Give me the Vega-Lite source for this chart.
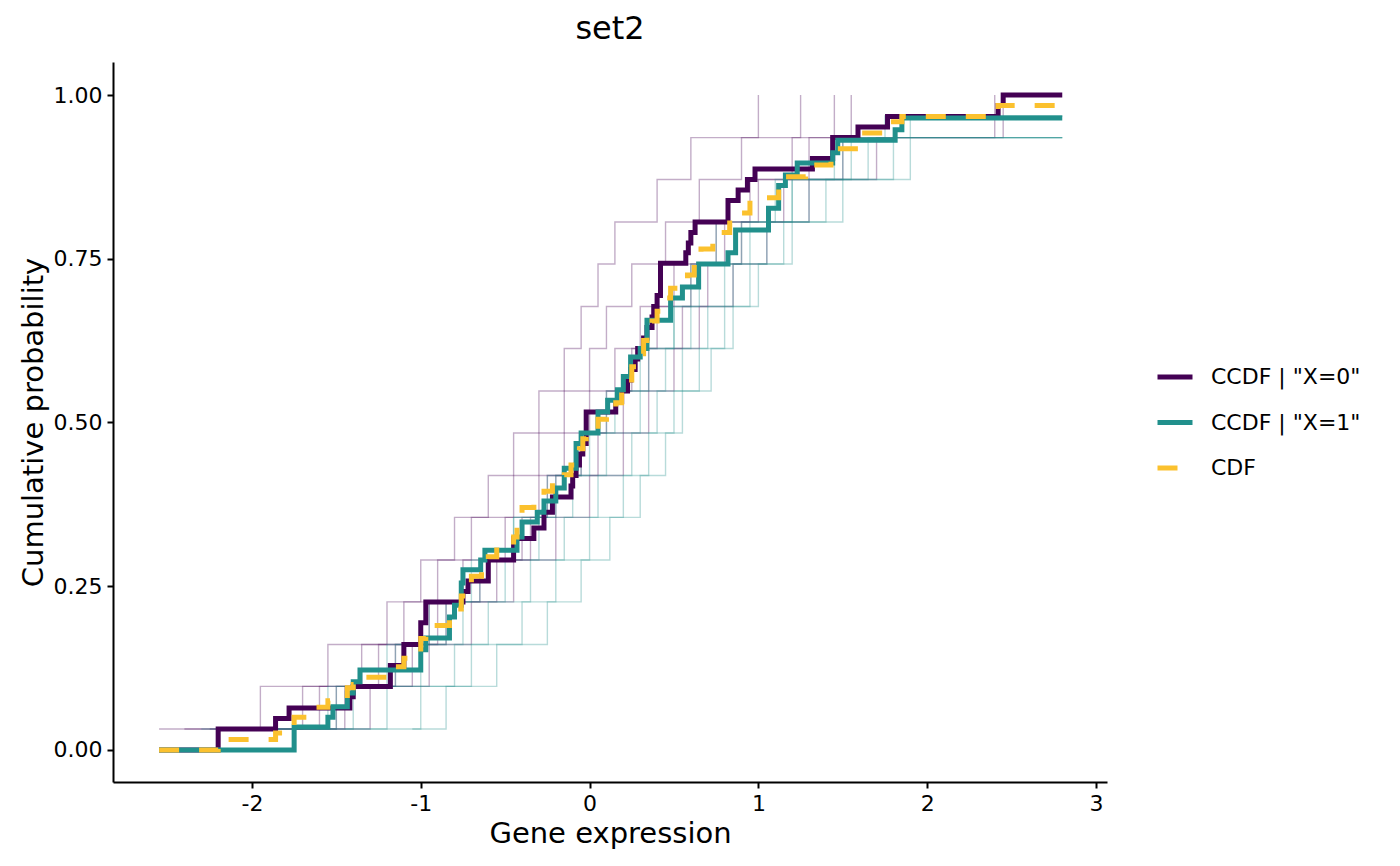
{
  "$schema": "https://vega.github.io/schema/vega-lite/v6.json",
  "width": 994,
  "height": 720,
  "autosize": "none",
  "padding": {"left": 113, "top": 62, "right": 293, "bottom": 84},
  "background": "white",
  "title": {
    "text": "set2",
    "fontSize": 32,
    "font": "DejaVu Sans",
    "fontWeight": "normal",
    "color": "black",
    "anchor": "middle",
    "offset": 16
  },
  "datasets": {
    "faint": [
      {"grp": "X=0", "run": "p1", "x": -2.55, "y": 0.032},
      {"grp": "X=0", "run": "p1", "x": -1.95, "y": 0.097},
      {"grp": "X=0", "run": "p1", "x": -1.55, "y": 0.161},
      {"grp": "X=0", "run": "p1", "x": -1.2, "y": 0.226},
      {"grp": "X=0", "run": "p1", "x": -1.0, "y": 0.29},
      {"grp": "X=0", "run": "p1", "x": -0.8, "y": 0.355},
      {"grp": "X=0", "run": "p1", "x": -0.6, "y": 0.419},
      {"grp": "X=0", "run": "p1", "x": -0.45, "y": 0.484},
      {"grp": "X=0", "run": "p1", "x": -0.3, "y": 0.548},
      {"grp": "X=0", "run": "p1", "x": -0.15, "y": 0.613},
      {"grp": "X=0", "run": "p1", "x": -0.05, "y": 0.677},
      {"grp": "X=0", "run": "p1", "x": 0.05, "y": 0.742},
      {"grp": "X=0", "run": "p1", "x": 0.15, "y": 0.806},
      {"grp": "X=0", "run": "p1", "x": 0.4, "y": 0.871},
      {"grp": "X=0", "run": "p1", "x": 0.6, "y": 0.935},
      {"grp": "X=0", "run": "p1", "x": 1.0, "y": 1.0},
      {"grp": "X=0", "run": "p2", "x": -2.4, "y": 0.032},
      {"grp": "X=0", "run": "p2", "x": -1.7, "y": 0.097},
      {"grp": "X=0", "run": "p2", "x": -1.35, "y": 0.161},
      {"grp": "X=0", "run": "p2", "x": -1.1, "y": 0.226},
      {"grp": "X=0", "run": "p2", "x": -0.9, "y": 0.29},
      {"grp": "X=0", "run": "p2", "x": -0.7, "y": 0.355},
      {"grp": "X=0", "run": "p2", "x": -0.45, "y": 0.419},
      {"grp": "X=0", "run": "p2", "x": -0.3, "y": 0.484},
      {"grp": "X=0", "run": "p2", "x": -0.15, "y": 0.548},
      {"grp": "X=0", "run": "p2", "x": 0.0, "y": 0.613},
      {"grp": "X=0", "run": "p2", "x": 0.1, "y": 0.677},
      {"grp": "X=0", "run": "p2", "x": 0.25, "y": 0.742},
      {"grp": "X=0", "run": "p2", "x": 0.45, "y": 0.806},
      {"grp": "X=0", "run": "p2", "x": 0.65, "y": 0.871},
      {"grp": "X=0", "run": "p2", "x": 0.9, "y": 0.935},
      {"grp": "X=0", "run": "p2", "x": 1.25, "y": 1.0},
      {"grp": "X=0", "run": "p3", "x": -2.1, "y": 0.032},
      {"grp": "X=0", "run": "p3", "x": -1.5, "y": 0.097},
      {"grp": "X=0", "run": "p3", "x": -1.25, "y": 0.161},
      {"grp": "X=0", "run": "p3", "x": -0.95, "y": 0.226},
      {"grp": "X=0", "run": "p3", "x": -0.75, "y": 0.29},
      {"grp": "X=0", "run": "p3", "x": -0.5, "y": 0.355},
      {"grp": "X=0", "run": "p3", "x": -0.3, "y": 0.419},
      {"grp": "X=0", "run": "p3", "x": -0.15, "y": 0.484},
      {"grp": "X=0", "run": "p3", "x": 0.0, "y": 0.548},
      {"grp": "X=0", "run": "p3", "x": 0.15, "y": 0.613},
      {"grp": "X=0", "run": "p3", "x": 0.3, "y": 0.677},
      {"grp": "X=0", "run": "p3", "x": 0.5, "y": 0.742},
      {"grp": "X=0", "run": "p3", "x": 0.8, "y": 0.806},
      {"grp": "X=0", "run": "p3", "x": 1.0, "y": 0.871},
      {"grp": "X=0", "run": "p3", "x": 1.3, "y": 0.935},
      {"grp": "X=0", "run": "p3", "x": 1.45, "y": 1.0},
      {"grp": "X=0", "run": "p4", "x": -1.9, "y": 0.032},
      {"grp": "X=0", "run": "p4", "x": -1.45, "y": 0.097},
      {"grp": "X=0", "run": "p4", "x": -1.05, "y": 0.161},
      {"grp": "X=0", "run": "p4", "x": -0.85, "y": 0.226},
      {"grp": "X=0", "run": "p4", "x": -0.55, "y": 0.29},
      {"grp": "X=0", "run": "p4", "x": -0.35, "y": 0.355},
      {"grp": "X=0", "run": "p4", "x": -0.2, "y": 0.419},
      {"grp": "X=0", "run": "p4", "x": 0.05, "y": 0.484},
      {"grp": "X=0", "run": "p4", "x": 0.2, "y": 0.548},
      {"grp": "X=0", "run": "p4", "x": 0.35, "y": 0.613},
      {"grp": "X=0", "run": "p4", "x": 0.55, "y": 0.677},
      {"grp": "X=0", "run": "p4", "x": 0.7, "y": 0.742},
      {"grp": "X=0", "run": "p4", "x": 0.9, "y": 0.806},
      {"grp": "X=0", "run": "p4", "x": 1.15, "y": 0.871},
      {"grp": "X=0", "run": "p4", "x": 1.5, "y": 0.935},
      {"grp": "X=0", "run": "p4", "x": 2.4, "y": 1.0},
      {"grp": "X=0", "run": "p5", "x": -2.25, "y": 0.032},
      {"grp": "X=0", "run": "p5", "x": -1.6, "y": 0.097},
      {"grp": "X=0", "run": "p5", "x": -1.15, "y": 0.161},
      {"grp": "X=0", "run": "p5", "x": -0.9, "y": 0.226},
      {"grp": "X=0", "run": "p5", "x": -0.65, "y": 0.29},
      {"grp": "X=0", "run": "p5", "x": -0.4, "y": 0.355},
      {"grp": "X=0", "run": "p5", "x": -0.25, "y": 0.419},
      {"grp": "X=0", "run": "p5", "x": -0.05, "y": 0.484},
      {"grp": "X=0", "run": "p5", "x": 0.1, "y": 0.548},
      {"grp": "X=0", "run": "p5", "x": 0.25, "y": 0.613},
      {"grp": "X=0", "run": "p5", "x": 0.4, "y": 0.677},
      {"grp": "X=0", "run": "p5", "x": 0.6, "y": 0.742},
      {"grp": "X=0", "run": "p5", "x": 0.75, "y": 0.806},
      {"grp": "X=0", "run": "p5", "x": 0.95, "y": 0.871},
      {"grp": "X=0", "run": "p5", "x": 1.2, "y": 0.935},
      {"grp": "X=0", "run": "p5", "x": 1.55, "y": 1.0},
      {"grp": "X=0", "run": "p6", "x": -1.75, "y": 0.032},
      {"grp": "X=0", "run": "p6", "x": -1.3, "y": 0.097},
      {"grp": "X=0", "run": "p6", "x": -0.95, "y": 0.161},
      {"grp": "X=0", "run": "p6", "x": -0.7, "y": 0.226},
      {"grp": "X=0", "run": "p6", "x": -0.45, "y": 0.29},
      {"grp": "X=0", "run": "p6", "x": -0.2, "y": 0.355},
      {"grp": "X=0", "run": "p6", "x": 0.0, "y": 0.419},
      {"grp": "X=0", "run": "p6", "x": 0.2, "y": 0.484},
      {"grp": "X=0", "run": "p6", "x": 0.35, "y": 0.548},
      {"grp": "X=0", "run": "p6", "x": 0.5, "y": 0.613},
      {"grp": "X=0", "run": "p6", "x": 0.65, "y": 0.677},
      {"grp": "X=0", "run": "p6", "x": 0.85, "y": 0.742},
      {"grp": "X=0", "run": "p6", "x": 1.05, "y": 0.806},
      {"grp": "X=0", "run": "p6", "x": 1.3, "y": 0.871},
      {"grp": "X=0", "run": "p6", "x": 1.7, "y": 0.935},
      {"grp": "X=0", "run": "p6", "x": 2.45, "y": 1.0},
      {"grp": "X=1", "run": "t1", "x": -1.05, "y": 0.032},
      {"grp": "X=1", "run": "t1", "x": -0.85, "y": 0.097},
      {"grp": "X=1", "run": "t1", "x": -0.55, "y": 0.161},
      {"grp": "X=1", "run": "t1", "x": -0.25, "y": 0.226},
      {"grp": "X=1", "run": "t1", "x": -0.05, "y": 0.29},
      {"grp": "X=1", "run": "t1", "x": 0.12, "y": 0.355},
      {"grp": "X=1", "run": "t1", "x": 0.3, "y": 0.419},
      {"grp": "X=1", "run": "t1", "x": 0.45, "y": 0.484},
      {"grp": "X=1", "run": "t1", "x": 0.55, "y": 0.548},
      {"grp": "X=1", "run": "t1", "x": 0.72, "y": 0.613},
      {"grp": "X=1", "run": "t1", "x": 0.85, "y": 0.677},
      {"grp": "X=1", "run": "t1", "x": 1.0, "y": 0.742},
      {"grp": "X=1", "run": "t1", "x": 1.2, "y": 0.806},
      {"grp": "X=1", "run": "t1", "x": 1.4, "y": 0.871},
      {"grp": "X=1", "run": "t1", "x": 1.65, "y": 0.935},
      {"grp": "X=1", "run": "t1", "x": 2.8, "y": 0.935},
      {"grp": "X=1", "run": "t2", "x": -1.6, "y": 0.032},
      {"grp": "X=1", "run": "t2", "x": -1.2, "y": 0.097},
      {"grp": "X=1", "run": "t2", "x": -0.8, "y": 0.161},
      {"grp": "X=1", "run": "t2", "x": -0.6, "y": 0.226},
      {"grp": "X=1", "run": "t2", "x": -0.35, "y": 0.29},
      {"grp": "X=1", "run": "t2", "x": -0.15, "y": 0.355},
      {"grp": "X=1", "run": "t2", "x": 0.05, "y": 0.419},
      {"grp": "X=1", "run": "t2", "x": 0.25, "y": 0.484},
      {"grp": "X=1", "run": "t2", "x": 0.4, "y": 0.548},
      {"grp": "X=1", "run": "t2", "x": 0.55, "y": 0.613},
      {"grp": "X=1", "run": "t2", "x": 0.7, "y": 0.677},
      {"grp": "X=1", "run": "t2", "x": 0.85, "y": 0.742},
      {"grp": "X=1", "run": "t2", "x": 1.05, "y": 0.806},
      {"grp": "X=1", "run": "t2", "x": 1.3, "y": 0.871},
      {"grp": "X=1", "run": "t2", "x": 1.55, "y": 0.935},
      {"grp": "X=1", "run": "t2", "x": 1.9, "y": 0.968},
      {"grp": "X=1", "run": "t2", "x": 2.8, "y": 0.968},
      {"grp": "X=1", "run": "t3", "x": -1.9, "y": 0.032},
      {"grp": "X=1", "run": "t3", "x": -1.4, "y": 0.097},
      {"grp": "X=1", "run": "t3", "x": -1.0, "y": 0.161},
      {"grp": "X=1", "run": "t3", "x": -0.75, "y": 0.226},
      {"grp": "X=1", "run": "t3", "x": -0.5, "y": 0.29},
      {"grp": "X=1", "run": "t3", "x": -0.3, "y": 0.355},
      {"grp": "X=1", "run": "t3", "x": -0.1, "y": 0.419},
      {"grp": "X=1", "run": "t3", "x": 0.1, "y": 0.484},
      {"grp": "X=1", "run": "t3", "x": 0.3, "y": 0.548},
      {"grp": "X=1", "run": "t3", "x": 0.45, "y": 0.613},
      {"grp": "X=1", "run": "t3", "x": 0.6, "y": 0.677},
      {"grp": "X=1", "run": "t3", "x": 0.8, "y": 0.742},
      {"grp": "X=1", "run": "t3", "x": 0.95, "y": 0.806},
      {"grp": "X=1", "run": "t3", "x": 1.2, "y": 0.871},
      {"grp": "X=1", "run": "t3", "x": 1.8, "y": 0.935},
      {"grp": "X=1", "run": "t3", "x": 2.8, "y": 0.935},
      {"grp": "X=1", "run": "t4", "x": -2.3, "y": 0.032},
      {"grp": "X=1", "run": "t4", "x": -1.5, "y": 0.097},
      {"grp": "X=1", "run": "t4", "x": -1.15, "y": 0.161},
      {"grp": "X=1", "run": "t4", "x": -0.85, "y": 0.226},
      {"grp": "X=1", "run": "t4", "x": -0.65, "y": 0.29},
      {"grp": "X=1", "run": "t4", "x": -0.45, "y": 0.355},
      {"grp": "X=1", "run": "t4", "x": -0.2, "y": 0.419},
      {"grp": "X=1", "run": "t4", "x": 0.0, "y": 0.484},
      {"grp": "X=1", "run": "t4", "x": 0.15, "y": 0.548},
      {"grp": "X=1", "run": "t4", "x": 0.3, "y": 0.613},
      {"grp": "X=1", "run": "t4", "x": 0.5, "y": 0.677},
      {"grp": "X=1", "run": "t4", "x": 0.6, "y": 0.742},
      {"grp": "X=1", "run": "t4", "x": 0.75, "y": 0.806},
      {"grp": "X=1", "run": "t4", "x": 1.1, "y": 0.871},
      {"grp": "X=1", "run": "t4", "x": 1.45, "y": 0.935},
      {"grp": "X=1", "run": "t4", "x": 1.75, "y": 0.968},
      {"grp": "X=1", "run": "t4", "x": 2.8, "y": 0.968},
      {"grp": "X=1", "run": "t5", "x": -1.45, "y": 0.032},
      {"grp": "X=1", "run": "t5", "x": -1.0, "y": 0.097},
      {"grp": "X=1", "run": "t5", "x": -0.7, "y": 0.161},
      {"grp": "X=1", "run": "t5", "x": -0.4, "y": 0.226},
      {"grp": "X=1", "run": "t5", "x": -0.2, "y": 0.29},
      {"grp": "X=1", "run": "t5", "x": 0.0, "y": 0.355},
      {"grp": "X=1", "run": "t5", "x": 0.2, "y": 0.419},
      {"grp": "X=1", "run": "t5", "x": 0.35, "y": 0.484},
      {"grp": "X=1", "run": "t5", "x": 0.5, "y": 0.548},
      {"grp": "X=1", "run": "t5", "x": 0.65, "y": 0.613},
      {"grp": "X=1", "run": "t5", "x": 0.8, "y": 0.677},
      {"grp": "X=1", "run": "t5", "x": 0.95, "y": 0.742},
      {"grp": "X=1", "run": "t5", "x": 1.15, "y": 0.806},
      {"grp": "X=1", "run": "t5", "x": 1.5, "y": 0.871},
      {"grp": "X=1", "run": "t5", "x": 1.9, "y": 0.935},
      {"grp": "X=1", "run": "t5", "x": 2.8, "y": 0.935},
      {"grp": "X=1", "run": "t6", "x": -2.0, "y": 0.032},
      {"grp": "X=1", "run": "t6", "x": -1.55, "y": 0.097},
      {"grp": "X=1", "run": "t6", "x": -1.2, "y": 0.161},
      {"grp": "X=1", "run": "t6", "x": -0.95, "y": 0.226},
      {"grp": "X=1", "run": "t6", "x": -0.7, "y": 0.29},
      {"grp": "X=1", "run": "t6", "x": -0.45, "y": 0.355},
      {"grp": "X=1", "run": "t6", "x": -0.25, "y": 0.419},
      {"grp": "X=1", "run": "t6", "x": -0.05, "y": 0.484},
      {"grp": "X=1", "run": "t6", "x": 0.1, "y": 0.548},
      {"grp": "X=1", "run": "t6", "x": 0.35, "y": 0.613},
      {"grp": "X=1", "run": "t6", "x": 0.5, "y": 0.677},
      {"grp": "X=1", "run": "t6", "x": 0.65, "y": 0.742},
      {"grp": "X=1", "run": "t6", "x": 0.9, "y": 0.806},
      {"grp": "X=1", "run": "t6", "x": 1.2, "y": 0.871},
      {"grp": "X=1", "run": "t6", "x": 1.5, "y": 0.935},
      {"grp": "X=1", "run": "t6", "x": 2.8, "y": 0.935}
    ],
    "main": [
      {"series": "CCDF | \"X=0\"", "x": -2.55, "y": 0},
      {"series": "CCDF | \"X=0\"", "x": -2.2, "y": 0.032},
      {"series": "CCDF | \"X=0\"", "x": -1.86, "y": 0.048},
      {"series": "CCDF | \"X=0\"", "x": -1.78, "y": 0.064},
      {"series": "CCDF | \"X=0\"", "x": -1.42, "y": 0.081},
      {"series": "CCDF | \"X=0\"", "x": -1.4, "y": 0.097},
      {"series": "CCDF | \"X=0\"", "x": -1.18, "y": 0.129},
      {"series": "CCDF | \"X=0\"", "x": -1.1, "y": 0.161},
      {"series": "CCDF | \"X=0\"", "x": -1.0, "y": 0.194},
      {"series": "CCDF | \"X=0\"", "x": -0.97, "y": 0.226},
      {"series": "CCDF | \"X=0\"", "x": -0.75, "y": 0.242},
      {"series": "CCDF | \"X=0\"", "x": -0.72, "y": 0.258},
      {"series": "CCDF | \"X=0\"", "x": -0.6, "y": 0.29},
      {"series": "CCDF | \"X=0\"", "x": -0.45, "y": 0.323},
      {"series": "CCDF | \"X=0\"", "x": -0.33, "y": 0.339},
      {"series": "CCDF | \"X=0\"", "x": -0.27, "y": 0.363},
      {"series": "CCDF | \"X=0\"", "x": -0.22, "y": 0.386},
      {"series": "CCDF | \"X=0\"", "x": -0.11, "y": 0.403},
      {"series": "CCDF | \"X=0\"", "x": -0.1, "y": 0.419},
      {"series": "CCDF | \"X=0\"", "x": -0.08, "y": 0.435},
      {"series": "CCDF | \"X=0\"", "x": -0.06, "y": 0.452},
      {"series": "CCDF | \"X=0\"", "x": -0.04, "y": 0.468},
      {"series": "CCDF | \"X=0\"", "x": -0.02, "y": 0.516},
      {"series": "CCDF | \"X=0\"", "x": 0.155, "y": 0.532},
      {"series": "CCDF | \"X=0\"", "x": 0.19, "y": 0.548},
      {"series": "CCDF | \"X=0\"", "x": 0.225, "y": 0.565},
      {"series": "CCDF | \"X=0\"", "x": 0.245, "y": 0.581},
      {"series": "CCDF | \"X=0\"", "x": 0.27, "y": 0.597},
      {"series": "CCDF | \"X=0\"", "x": 0.285, "y": 0.613},
      {"series": "CCDF | \"X=0\"", "x": 0.32, "y": 0.629},
      {"series": "CCDF | \"X=0\"", "x": 0.34, "y": 0.645},
      {"series": "CCDF | \"X=0\"", "x": 0.37, "y": 0.661},
      {"series": "CCDF | \"X=0\"", "x": 0.38, "y": 0.677},
      {"series": "CCDF | \"X=0\"", "x": 0.4, "y": 0.694},
      {"series": "CCDF | \"X=0\"", "x": 0.42, "y": 0.743},
      {"series": "CCDF | \"X=0\"", "x": 0.57, "y": 0.759},
      {"series": "CCDF | \"X=0\"", "x": 0.585, "y": 0.774},
      {"series": "CCDF | \"X=0\"", "x": 0.6, "y": 0.79},
      {"series": "CCDF | \"X=0\"", "x": 0.625, "y": 0.806},
      {"series": "CCDF | \"X=0\"", "x": 0.82, "y": 0.839},
      {"series": "CCDF | \"X=0\"", "x": 0.88, "y": 0.855},
      {"series": "CCDF | \"X=0\"", "x": 0.935, "y": 0.871},
      {"series": "CCDF | \"X=0\"", "x": 0.98, "y": 0.887},
      {"series": "CCDF | \"X=0\"", "x": 1.32, "y": 0.903},
      {"series": "CCDF | \"X=0\"", "x": 1.44, "y": 0.935},
      {"series": "CCDF | \"X=0\"", "x": 1.59, "y": 0.951},
      {"series": "CCDF | \"X=0\"", "x": 1.765, "y": 0.967},
      {"series": "CCDF | \"X=0\"", "x": 2.42, "y": 0.984},
      {"series": "CCDF | \"X=0\"", "x": 2.45, "y": 1.0},
      {"series": "CCDF | \"X=0\"", "x": 2.8, "y": 1.0},
      {"series": "CCDF | \"X=1\"", "x": -2.55, "y": 0},
      {"series": "CCDF | \"X=1\"", "x": -1.75, "y": 0.035},
      {"series": "CCDF | \"X=1\"", "x": -1.55, "y": 0.05},
      {"series": "CCDF | \"X=1\"", "x": -1.52, "y": 0.066},
      {"series": "CCDF | \"X=1\"", "x": -1.435, "y": 0.087},
      {"series": "CCDF | \"X=1\"", "x": -1.4, "y": 0.104},
      {"series": "CCDF | \"X=1\"", "x": -1.36, "y": 0.122},
      {"series": "CCDF | \"X=1\"", "x": -1.0, "y": 0.153},
      {"series": "CCDF | \"X=1\"", "x": -0.97, "y": 0.171},
      {"series": "CCDF | \"X=1\"", "x": -0.83, "y": 0.203},
      {"series": "CCDF | \"X=1\"", "x": -0.8, "y": 0.221},
      {"series": "CCDF | \"X=1\"", "x": -0.76, "y": 0.255},
      {"series": "CCDF | \"X=1\"", "x": -0.75, "y": 0.275},
      {"series": "CCDF | \"X=1\"", "x": -0.645, "y": 0.29},
      {"series": "CCDF | \"X=1\"", "x": -0.62, "y": 0.305},
      {"series": "CCDF | \"X=1\"", "x": -0.43, "y": 0.325},
      {"series": "CCDF | \"X=1\"", "x": -0.4, "y": 0.348},
      {"series": "CCDF | \"X=1\"", "x": -0.31, "y": 0.363},
      {"series": "CCDF | \"X=1\"", "x": -0.27, "y": 0.38},
      {"series": "CCDF | \"X=1\"", "x": -0.2, "y": 0.4},
      {"series": "CCDF | \"X=1\"", "x": -0.15, "y": 0.43},
      {"series": "CCDF | \"X=1\"", "x": -0.08, "y": 0.468},
      {"series": "CCDF | \"X=1\"", "x": -0.05, "y": 0.484},
      {"series": "CCDF | \"X=1\"", "x": 0.05, "y": 0.516},
      {"series": "CCDF | \"X=1\"", "x": 0.107, "y": 0.534},
      {"series": "CCDF | \"X=1\"", "x": 0.165, "y": 0.55},
      {"series": "CCDF | \"X=1\"", "x": 0.2, "y": 0.57},
      {"series": "CCDF | \"X=1\"", "x": 0.243, "y": 0.6},
      {"series": "CCDF | \"X=1\"", "x": 0.3, "y": 0.613},
      {"series": "CCDF | \"X=1\"", "x": 0.34, "y": 0.656},
      {"series": "CCDF | \"X=1\"", "x": 0.48, "y": 0.69},
      {"series": "CCDF | \"X=1\"", "x": 0.55, "y": 0.707},
      {"series": "CCDF | \"X=1\"", "x": 0.646, "y": 0.742},
      {"series": "CCDF | \"X=1\"", "x": 0.82, "y": 0.759},
      {"series": "CCDF | \"X=1\"", "x": 0.865, "y": 0.794},
      {"series": "CCDF | \"X=1\"", "x": 1.06, "y": 0.827},
      {"series": "CCDF | \"X=1\"", "x": 1.12, "y": 0.862},
      {"series": "CCDF | \"X=1\"", "x": 1.16, "y": 0.878},
      {"series": "CCDF | \"X=1\"", "x": 1.23, "y": 0.896},
      {"series": "CCDF | \"X=1\"", "x": 1.44, "y": 0.912},
      {"series": "CCDF | \"X=1\"", "x": 1.47, "y": 0.931},
      {"series": "CCDF | \"X=1\"", "x": 1.81, "y": 0.947},
      {"series": "CCDF | \"X=1\"", "x": 1.85, "y": 0.965},
      {"series": "CCDF | \"X=1\"", "x": 2.8, "y": 0.965},
      {"series": "CDF", "x": -2.55, "y": 0},
      {"series": "CDF", "x": -2.2, "y": 0.016},
      {"series": "CDF", "x": -1.86, "y": 0.026},
      {"series": "CDF", "x": -1.78, "y": 0.033},
      {"series": "CDF", "x": -1.75, "y": 0.05},
      {"series": "CDF", "x": -1.62, "y": 0.065},
      {"series": "CDF", "x": -1.55, "y": 0.075},
      {"series": "CDF", "x": -1.52, "y": 0.083},
      {"series": "CDF", "x": -1.435, "y": 0.095},
      {"series": "CDF", "x": -1.4, "y": 0.1},
      {"series": "CDF", "x": -1.36, "y": 0.111},
      {"series": "CDF", "x": -1.18, "y": 0.127},
      {"series": "CDF", "x": -1.1, "y": 0.14},
      {"series": "CDF", "x": -1.05, "y": 0.15},
      {"series": "CDF", "x": -1.0, "y": 0.17},
      {"series": "CDF", "x": -0.97, "y": 0.19},
      {"series": "CDF", "x": -0.83, "y": 0.205},
      {"series": "CDF", "x": -0.8, "y": 0.215},
      {"series": "CDF", "x": -0.76, "y": 0.235},
      {"series": "CDF", "x": -0.72, "y": 0.25},
      {"series": "CDF", "x": -0.7, "y": 0.265},
      {"series": "CDF", "x": -0.64, "y": 0.28},
      {"series": "CDF", "x": -0.6, "y": 0.295},
      {"series": "CDF", "x": -0.55, "y": 0.31},
      {"series": "CDF", "x": -0.45, "y": 0.325},
      {"series": "CDF", "x": -0.43, "y": 0.345},
      {"series": "CDF", "x": -0.4, "y": 0.37},
      {"series": "CDF", "x": -0.33, "y": 0.385},
      {"series": "CDF", "x": -0.27, "y": 0.395},
      {"series": "CDF", "x": -0.22, "y": 0.41},
      {"series": "CDF", "x": -0.15, "y": 0.42},
      {"series": "CDF", "x": -0.11, "y": 0.435},
      {"series": "CDF", "x": -0.08, "y": 0.445},
      {"series": "CDF", "x": -0.06, "y": 0.46},
      {"series": "CDF", "x": -0.04, "y": 0.475},
      {"series": "CDF", "x": -0.02, "y": 0.49},
      {"series": "CDF", "x": 0.05, "y": 0.505},
      {"series": "CDF", "x": 0.1, "y": 0.515},
      {"series": "CDF", "x": 0.155, "y": 0.53},
      {"series": "CDF", "x": 0.19, "y": 0.55},
      {"series": "CDF", "x": 0.225, "y": 0.565},
      {"series": "CDF", "x": 0.25, "y": 0.585},
      {"series": "CDF", "x": 0.285, "y": 0.605},
      {"series": "CDF", "x": 0.32, "y": 0.625},
      {"series": "CDF", "x": 0.34, "y": 0.64},
      {"series": "CDF", "x": 0.37, "y": 0.655},
      {"series": "CDF", "x": 0.4, "y": 0.67},
      {"series": "CDF", "x": 0.42, "y": 0.69},
      {"series": "CDF", "x": 0.48, "y": 0.705},
      {"series": "CDF", "x": 0.55, "y": 0.715},
      {"series": "CDF", "x": 0.58, "y": 0.725},
      {"series": "CDF", "x": 0.62, "y": 0.75},
      {"series": "CDF", "x": 0.66, "y": 0.765},
      {"series": "CDF", "x": 0.73, "y": 0.79},
      {"series": "CDF", "x": 0.83, "y": 0.82},
      {"series": "CDF", "x": 0.95, "y": 0.843},
      {"series": "CDF", "x": 1.12, "y": 0.875},
      {"series": "CDF", "x": 1.28, "y": 0.893},
      {"series": "CDF", "x": 1.43, "y": 0.918},
      {"series": "CDF", "x": 1.59, "y": 0.942},
      {"series": "CDF", "x": 1.77, "y": 0.959},
      {"series": "CDF", "x": 1.85, "y": 0.967},
      {"series": "CDF", "x": 2.42, "y": 0.984},
      {"series": "CDF", "x": 2.8, "y": 0.984}
    ]
  },
  "encoding": {
    "x": {
      "field": "x",
      "type": "quantitative",
      "title": "Gene expression",
      "scale": {"domain": [-2.823, 3.065], "nice": false, "zero": false},
      "axis": {
        "values": [-2, -1, 0, 1, 2, 3],
        "labelExpr": "datum.value < 0 ? '-' + abs(datum.value) : '' + datum.value"
      }
    },
    "y": {
      "field": "y",
      "type": "quantitative",
      "title": "Cumulative probability",
      "scale": {"domain": [-0.049, 1.0504], "nice": false, "zero": false},
      "axis": {"values": [0, 0.25, 0.5, 0.75, 1], "format": ".2f"}
    }
  },
  "layer": [
    {
      "data": {"name": "faint"},
      "mark": {"type": "line", "interpolate": "step-after", "strokeWidth": 1.4, "opacity": 0.32},
      "encoding": {
        "detail": {"field": "run", "type": "nominal"},
        "color": {
          "condition": {"test": "datum.grp == 'X=0'", "value": "#440154"},
          "value": "#21908C"
        }
      }
    },
    {
      "data": {"name": "main"},
      "mark": {"type": "line", "interpolate": "step-after", "strokeWidth": 5},
      "encoding": {
        "color": {
          "field": "series",
          "type": "nominal",
          "title": null,
          "scale": {
            "domain": ["CCDF | \"X=0\"", "CCDF | \"X=1\"", "CDF"],
            "range": ["#440154", "#21908C", "#FBC12E"]
          }
        },
        "strokeDash": {
          "field": "series",
          "type": "nominal",
          "title": null,
          "scale": {
            "domain": ["CCDF | \"X=0\"", "CCDF | \"X=1\"", "CDF"],
            "range": [[1, 0], [1, 0], [20, 20]]
          }
        }
      }
    }
  ],
  "config": {
    "font": "DejaVu Sans",
    "view": {"stroke": null},
    "axis": {
      "grid": false,
      "domainColor": "black",
      "domainWidth": 2,
      "tickColor": "black",
      "tickWidth": 2,
      "tickSize": 6,
      "labelColor": "black",
      "labelFont": "DejaVu Sans",
      "labelFontSize": 22,
      "labelPadding": 5,
      "titleColor": "black",
      "titleFont": "DejaVu Sans",
      "titleFontSize": 29,
      "titleFontWeight": "normal",
      "titlePadding": 5
    },
    "legend": {
      "orient": "none",
      "legendX": 1042,
      "legendY": 295,
      "padding": 0,
      "symbolType": "stroke",
      "symbolSize": 1225,
      "symbolStrokeWidth": 5,
      "labelFont": "DejaVu Sans",
      "labelFontSize": 22,
      "labelColor": "black",
      "labelOffset": 16,
      "rowPadding": 14.5
    }
  }
}
